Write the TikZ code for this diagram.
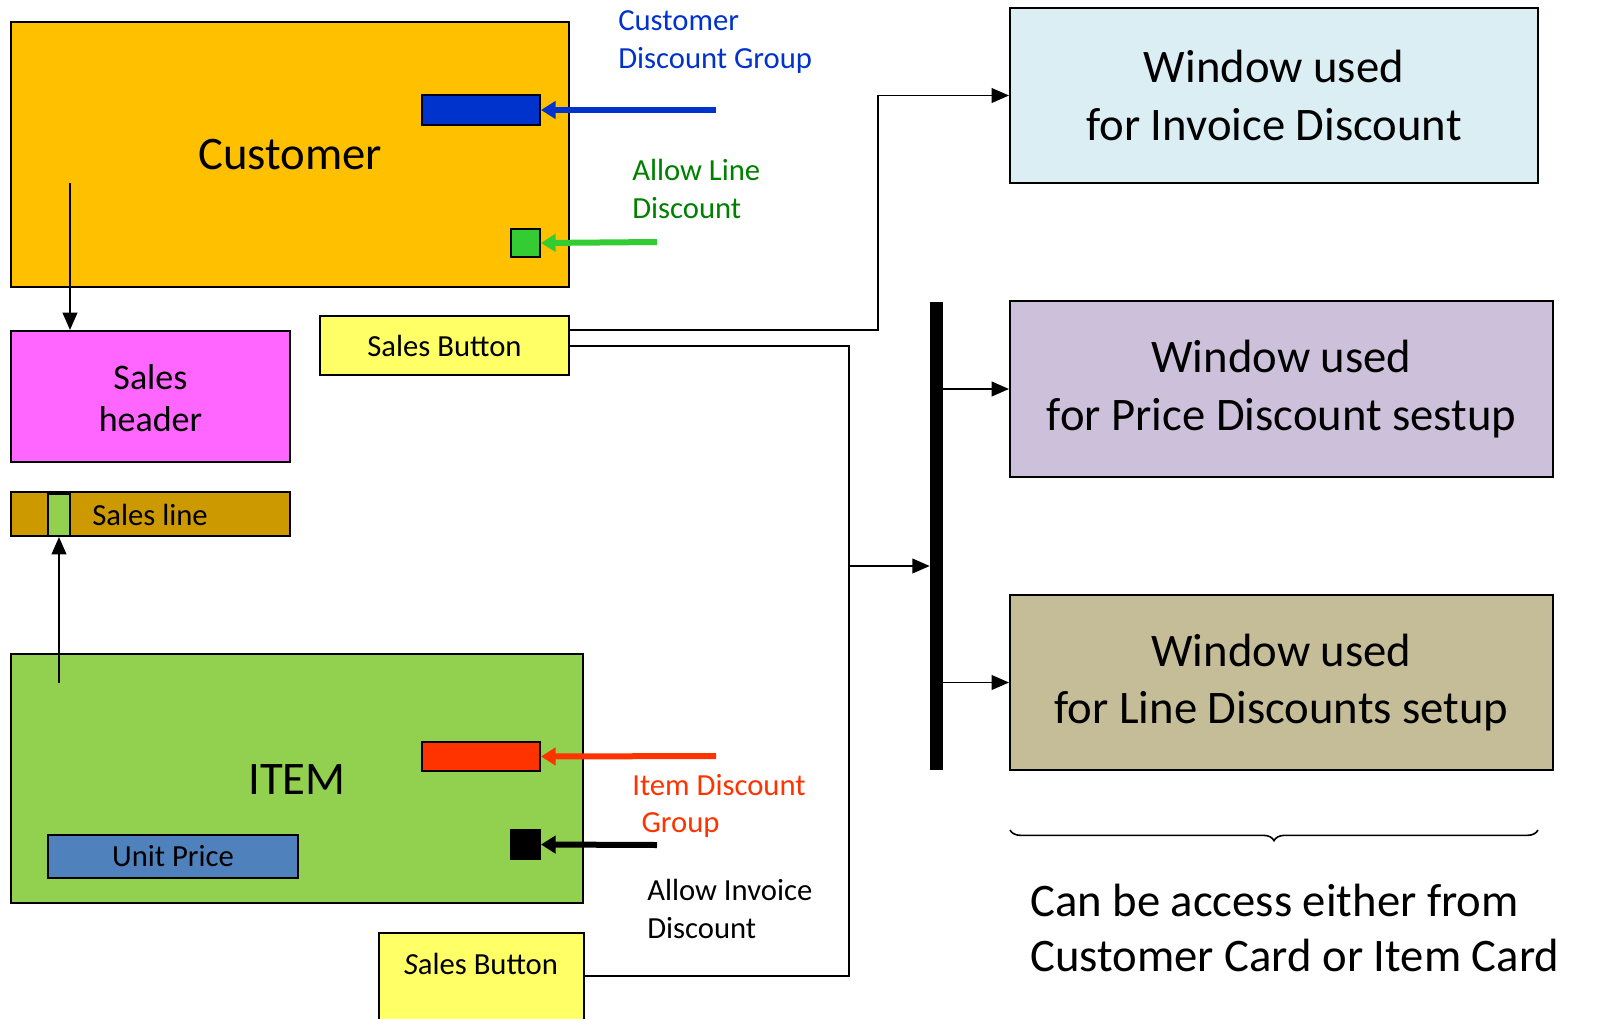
\documentclass[tikz,border=0pt]{standalone}
\usepackage{fontspec}
\setmainfont{Carlito}
\usetikzlibrary{arrows.meta,decorations.pathreplacing}
\definecolor{custC}{HTML}{FFC000}
\definecolor{blueC}{HTML}{0033CC}
\definecolor{greenC}{HTML}{33CC33}
\definecolor{labgreen}{HTML}{008000}
\definecolor{hdrC}{HTML}{FF66FF}
\definecolor{lineC}{HTML}{CC9900}
\definecolor{itemC}{HTML}{92D050}
\definecolor{redC}{HTML}{FF3300}
\definecolor{upC}{HTML}{4F81BD}
\definecolor{btnC}{HTML}{FFFF66}
\definecolor{invC}{HTML}{DAEEF3}
\definecolor{priC}{HTML}{CCC0DA}
\definecolor{lnC}{HTML}{C4BD97}
\tikzset{
  box/.style={draw=black, line width=1.5pt, inner sep=0pt, align=center},
  big/.style={font=\fontsize{35}{43}\selectfont},
  mid/.style={font=\fontsize{27}{32}\selectfont},
  small/.style={font=\fontsize{23}{28}\selectfont},
  lab/.style={font=\fontsize{23}{28}\selectfont, align=left, anchor=west, inner sep=0pt},
  conn/.style={draw=black, line width=1.3pt},
  tip/.style={-{Triangle[length=13pt,width=11pt]}},
  thicktip/.style={-{Triangle[length=11pt,width=13pt]}, line width=4.5pt},
}
\begin{document}
\begin{tikzpicture}[x=0.75pt,y=-0.75pt]
\useasboundingbox (0,0) rectangle (1614,1018);
\clip (0,0) rectangle (1614,1018);
\fill[white] (0,0) rectangle (1614,1018);
% Customer
\node[box, fill=custC, minimum width=558*0.75pt, minimum height=265*0.75pt] (cust) at (290,154.5) {};
\node[big] (custt) at (290,155) {Customer};
\node[box, fill=blueC, minimum width=118*0.75pt, minimum height=30*0.75pt] (cdg) at (481,110) {};
\node[box, fill=greenC, minimum width=29*0.75pt, minimum height=28*0.75pt] (ald) at (525.5,243) {};
\coordinate (cdgs) at (716,110);
\coordinate (alds) at (657,242);
\draw[thicktip, draw=blueC, fill=blueC] (cdgs) -- (cdg.east);
\draw[thicktip, draw=greenC, fill=greenC] (alds) -- (ald.east);
\node[lab, text=blueC] (cdgl) at (618,42) {Customer\\Discount Group};
\node[lab, text=labgreen] (aldl) at (632,189) {Allow Line\\Discount};
% Sales header / line
\node[box, fill=hdrC, minimum width=279*0.75pt, minimum height=131*0.75pt] (hdr) at (150.5,396.5) {};
\node[mid, align=center] (hdrt) at (150.5,398) {Sales\\header};
\node[box, fill=lineC, minimum width=279*0.75pt, minimum height=44*0.75pt] (sl) at (150.5,514) {};
\node[box, fill=itemC, minimum width=22*0.75pt, minimum height=42*0.75pt] (slg) at (59,515) {};
\node[small] (slt) at (150,515) {Sales line};
\coordinate (custdrop) at (70,183);
\draw[conn, tip] (custdrop) -- (custdrop |- hdr.north);
% ITEM
\node[box, fill=itemC, minimum width=572*0.75pt, minimum height=249*0.75pt] (item) at (297,778.5) {};
\node[big] (itemt) at (297,780) {ITEM};
\node[box, fill=redC, minimum width=118*0.75pt, minimum height=29*0.75pt] (idg) at (481,756.5) {};
\node[box, fill=black, minimum width=29*0.75pt, minimum height=29*0.75pt] (aid) at (525.5,844.5) {};
\node[box, fill=upC, minimum width=250*0.75pt, minimum height=43*0.75pt, small] (up) at (173,856.5) {Unit Price};
\coordinate (idgs) at (716,756);
\coordinate (aids) at (657,845);
\draw[thicktip, draw=redC, fill=redC] (idgs) -- (idg.east);
\draw[thicktip, draw=black, fill=black] (aids) -- (aid.east);
\node[lab, text=redC] (idgl) at (632,806) {Item Discount\\\hspace*{7pt}Group};
\node[lab, text=black] (aidl) at (647,909) {Allow Invoice\\Discount};
\coordinate (itemup) at (59,683);
\draw[conn, tip] (itemup) -- (slg.south);
% Sales buttons
\node[box, fill=btnC, minimum width=249*0.75pt, minimum height=59*0.75pt, small] (sb1) at (444.5,345.5) {Sales Button};
\node[box, fill=btnC, minimum width=205*0.75pt, minimum height=110*0.75pt] (sb2) at (481.5,988) {};
\node[small] (sb2t) at (481,964) {\textit{S}ales Button};
% Windows
\node[box, fill=invC, minimum width=528*0.75pt, minimum height=175*0.75pt, big] (winv) at (1274,95.5) {Window used\\for Invoice Discount};
\node[box, fill=priC, minimum width=543*0.75pt, minimum height=176*0.75pt, big] (wpri) at (1281.5,389) {Window used\\for Price Discount sestup};
\node[box, fill=lnC, minimum width=543*0.75pt, minimum height=175*0.75pt, big] (wln) at (1281.5,682.5) {Window used\\for Line Discounts setup};
% bar
\node[fill=black, draw=none, minimum width=13*0.75pt, minimum height=468*0.75pt, inner sep=0pt] (bar) at (936.5,536) {};
% connectors
\coordinate (j1) at (878,330);
\coordinate (j2) at (849,346);
\coordinate (j3) at (849,566);
\draw[conn, tip] (sb1.east |- j1) -- (j1) |- (winv.west);
\draw[conn] (sb1.east |- j2) -- (j2) |- (sb2.east |- 0,976);
\draw[conn, tip] (j3) -- (bar.west |- j3);
\draw[conn, tip] (bar.east |- wpri.west) -- (wpri.west);
\draw[conn, tip] (bar.east |- wln.west) -- (wln.west);
% brace
\coordinate (b1) at (1010,830);
\coordinate (b2) at (1538,830);
\draw[line width=1.2pt, decorate, decoration={brace, mirror, amplitude=8pt}] (b1) -- (b2);
\node[big, align=left, anchor=west, inner sep=0pt, font=\fontsize{35}{41}\selectfont] (note) at (1030,928) {Can be access either from\\Customer Card or Item Card};
\end{tikzpicture}
\end{document}
